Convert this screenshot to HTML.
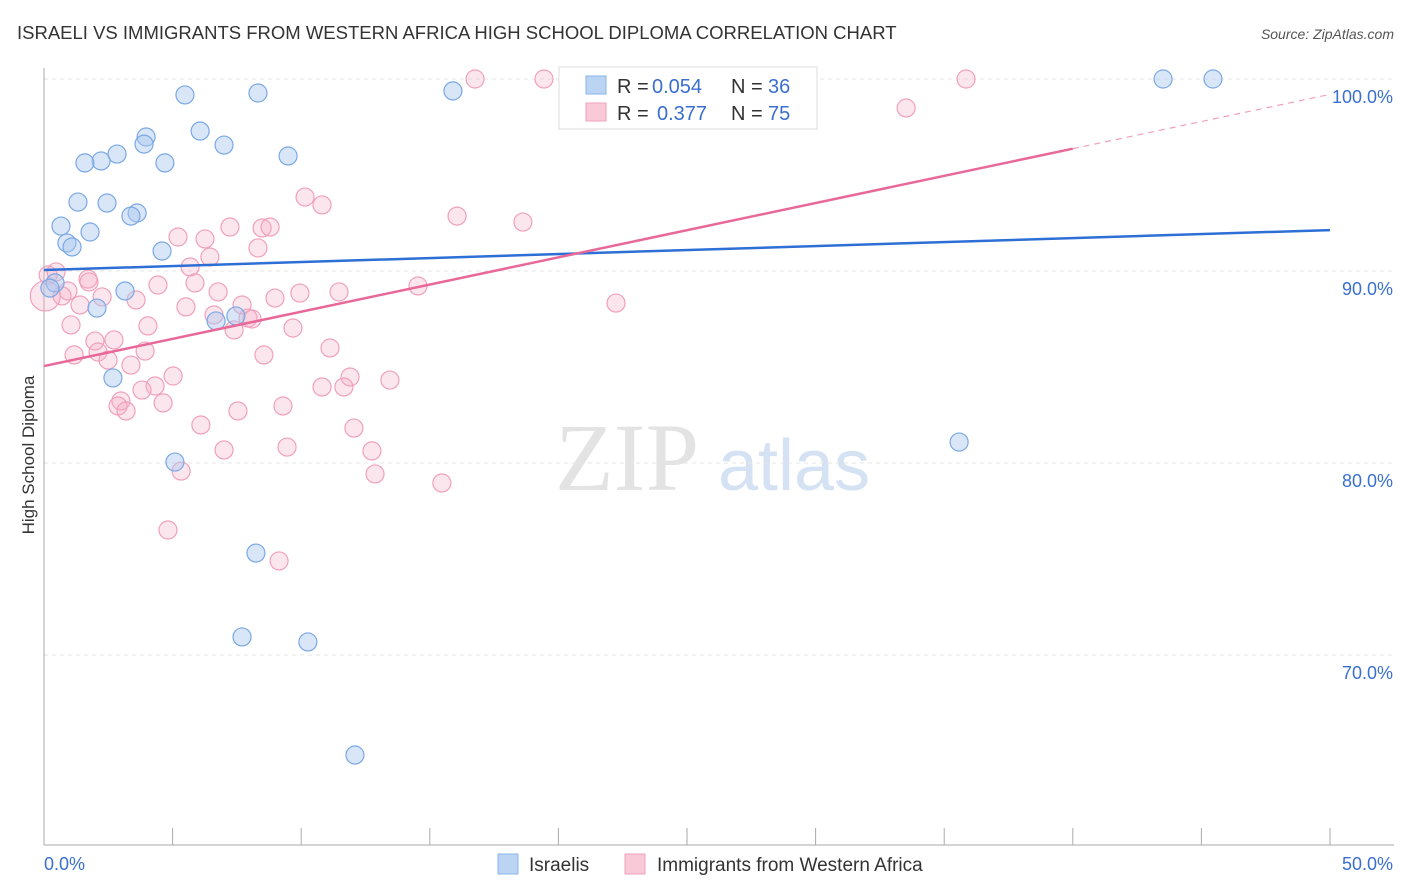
<!DOCTYPE html>
<html><head><meta charset="utf-8"><style>
body{margin:0;background:#fff;font-family:"Liberation Sans",sans-serif;}
svg{display:block}
</style></head><body>
<svg id="c" width="1406" height="892">
<text x="17" y="39" font-size="18.5" fill="#333">ISRAELI VS IMMIGRANTS FROM WESTERN AFRICA HIGH SCHOOL DIPLOMA CORRELATION CHART</text>
<text x="1394" y="39" font-size="14" fill="#555" font-style="italic" text-anchor="end">Source: ZipAtlas.com</text>
<g>
<text x="555" y="490" font-size="96" font-family="Liberation Serif,serif" fill="#e3e3e3">ZIP</text>
<text x="718" y="490" font-size="72" fill="#d5e2f3">atlas</text>
</g>
<g id="grid"></g><g id="axes"></g><g id="pts"></g><g id="lines"></g>
<text transform="translate(34,455) rotate(-90)" font-size="17" fill="#333" text-anchor="middle">High School Diploma</text>
<g>
<rect x="559" y="67" width="258" height="62" fill="#fff" stroke="#ddd"/>
<rect x="586" y="76" width="20" height="18" fill="#bcd4f4" stroke="#8ab4e8"/>
<text x="617" y="93" font-size="20" fill="#333">R =</text>
<text x="652" y="93" font-size="20" fill="#3a6fd0">0.054</text>
<text x="731" y="93" font-size="20" fill="#333">N =</text>
<text x="768" y="93" font-size="20" fill="#3a6fd0">36</text>
<rect x="586" y="103" width="20" height="18" fill="#f9c9d8" stroke="#f0a0bc"/>
<text x="617" y="120" font-size="20" fill="#333">R =</text>
<text x="657" y="120" font-size="20" fill="#3a6fd0">0.377</text>
<text x="731" y="120" font-size="20" fill="#333">N =</text>
<text x="768" y="120" font-size="20" fill="#3a6fd0">75</text>
</g>
<g>
<rect x="498" y="854" width="20" height="20" fill="#bcd4f4" stroke="#8ab4e8"/>
<text x="529" y="871" font-size="19" fill="#333">Israelis</text>
<rect x="625" y="854" width="20" height="20" fill="#f9c9d8" stroke="#f0a0bc"/>
<text x="657" y="871" font-size="19" fill="#333">Immigrants from Western Africa</text>
</g>
</svg>
<script>
const blueX=[5.48,8.32,15.90,43.51,45.45,3.97,6.07,3.89,7.00,2.84,2.22,1.59,4.70,9.49,1.32,2.45,3.62,3.38,0.66,1.79,0.89,1.09,4.59,0.43,0.23,3.15,2.06,6.69,7.46,2.68,5.09,35.58,8.24,7.70,10.26,12.09];
const blueY=[99.17,99.27,99.38,100,100,96.98,97.29,96.61,96.56,96.09,95.73,95.63,95.63,95.99,93.59,93.54,93.02,92.86,92.34,92.03,91.46,91.25,91.04,89.38,89.11,88.96,88.07,87.40,87.66,84.43,80.05,81.09,75.31,70.94,70.68,64.79];
const pinkX=[16.76,19.44,35.85,33.52,10.15,10.81,16.06,18.62,7.23,8.48,8.79,5.21,6.26,8.32,6.45,5.68,0.16,0.47,1.71,5.87,4.43,14.54,1.75,0.93,0.70,2.26,6.77,9.95,11.47,8.98,3.58,1.40,5.52,7.70,22.24,6.61,7.93,8.09,7.39,1.05,4.04,9.68,1.98,2.72,2.10,11.12,1.17,3.93,2.49,8.55,3.38,5.02,11.90,13.45,4.32,3.81,10.81,11.66,4.63,2.99,2.88,3.19,7.54,9.29,6.10,12.05,7.00,9.45,12.75,5.33,12.87,15.47,4.82,9.14,0.05];
const pinkY=[100,100,100,98.49,93.85,93.44,92.86,92.55,92.29,92.24,92.29,91.77,91.67,91.20,90.73,90.21,89.79,89.95,89.58,89.38,89.27,89.22,89.43,88.96,88.70,88.65,88.91,88.85,88.91,88.59,88.49,88.23,88.13,88.23,88.33,87.71,87.55,87.50,86.93,87.19,87.14,87.03,86.35,86.41,85.78,85.99,85.63,85.83,85.36,85.63,85.10,84.53,84.48,84.32,84.01,83.80,83.96,83.96,83.13,83.23,82.97,82.71,82.71,82.97,81.98,81.82,80.68,80.83,80.63,79.58,79.43,78.96,76.51,74.90,88.7];
const yTicks=[100,90,80,70];
const yTickLabels=["100.0%","90.0%","80.0%","70.0%"];
const xTickLabels=["0.0%","50.0%"];
const blueTrend=[90.05,92.13];
const pinkTrend=[85.05,99.2];
const NS="http://www.w3.org/2000/svg";
const X=v=>44+v/50*1286, Y=v=>79+(100-v)*19.2;
function mk(tag,attrs,parent){const e=document.createElementNS(NS,tag);for(const k in attrs)e.setAttribute(k,attrs[k]);document.getElementById(parent).appendChild(e);return e;}
yTicks.forEach((t,i)=>{
 const g=mk('line',{x1:44,x2:1394,y1:Y(t),y2:Y(t),stroke:'#e6e6e6','stroke-dasharray':'4,4'},'grid');
 
 
 const l=mk('text',{x:1393,y:Y(t)+24,'font-size':18,fill:'#3a6fd0','text-anchor':'end'},'axes');
 l.textContent=yTickLabels[i];
 
 
});
const ax=mk('line',{x1:44,x2:44,y1:68,y2:845,stroke:'#aaa'},'axes');


const bx=mk('line',{x1:44,x2:1394,y1:845,y2:845,stroke:'#aaa'},'axes');


for(let i=0;i<=10;i++){const t=mk('line',{x1:X(i*5),x2:X(i*5),y1:828,y2:845,stroke:'#aaa'},'axes');
 
 }
[[0,'start',44],[50,'end',1393]].forEach((d,i)=>{const l=mk('text',{x:d[2],y:870,'font-size':18,fill:'#3a6fd0','text-anchor':d[1]},'axes');l.textContent=xTickLabels[i];
 
 });
pinkX.forEach((v,i)=>{const c=mk('circle',{cx:X(v),cy:Y(pinkY[i]),r:i==pinkX.length-1?15:9,fill:'rgba(244,172,196,0.3)',stroke:'#f0a0bc','stroke-width':1.2},'pts');
 
 });
blueX.forEach((v,i)=>{const c=mk('circle',{cx:X(v),cy:Y(blueY[i]),r:9,fill:'rgba(170,200,240,0.45)',stroke:'#7aa8e4','stroke-width':1.2},'pts');
 
 });
const bl=mk('line',{x1:X(0),y1:Y(blueTrend[0]),x2:X(50),y2:Y(blueTrend[1]),stroke:'#2e6fd6','stroke-width':2.5},'lines');


const pm=pinkTrend[0]+(pinkTrend[1]-pinkTrend[0])*0.8;
const pl=mk('line',{x1:X(0),y1:Y(pinkTrend[0]),x2:X(40),y2:Y(pm),stroke:'#e8689a','stroke-width':2.5},'lines');


const pd=mk('line',{x1:X(40),y1:Y(pm),x2:X(50),y2:Y(pinkTrend[1]),stroke:'#f0a0bc','stroke-width':1.2,'stroke-dasharray':'6,5'},'lines');


</script>
</body></html>
